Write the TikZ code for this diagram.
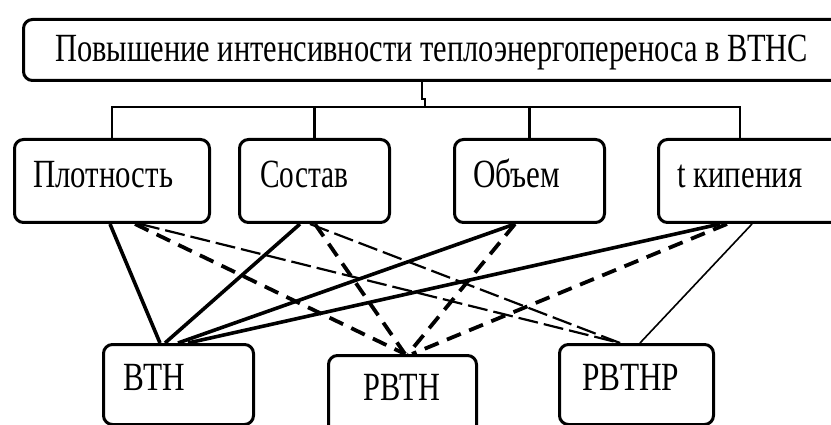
\documentclass[tikz,border=0pt]{standalone}
\usepackage{fontspec}
\setmainfont{Liberation Serif}
\usepackage{graphicx}
\newcommand\fitw[2]{\resizebox{#1}{\height}{\fontsize{40pt}{40pt}\selectfont #2}}
\begin{document}
\begin{tikzpicture}[x=1pt,y=-1pt,
  box/.style={draw, line width=3pt, rounded corners=9pt, inner sep=0pt, anchor=north west},
  lbl/.style={anchor=base west, inner sep=0pt},
  link/.style={line width=2.5pt},
  solidthick/.style={line width=3.6pt},
  dashthick/.style={line width=3.8pt, dash pattern=on 15pt off 9pt},
  dashthin/.style={line width=2.2pt, dash pattern=on 20pt off 6pt},
  thinline/.style={line width=1.6pt}]
\useasboundingbox (0,0) rectangle (831,425);
\clip (0,0) rectangle (831,425);
% boxes
\node[box, minimum width=830pt, minimum height=61pt] (top) at (22,18) {};
\node[box, minimum width=195pt, minimum height=83pt] (plot) at (13,138) {};
\node[box, minimum width=150pt, minimum height=83pt] (sost) at (238,138) {};
\node[box, minimum width=150pt, minimum height=83pt] (obem) at (453,138) {};
\node[box, minimum width=190pt, minimum height=83pt] (tkip) at (657,138) {};
\node[box, minimum width=150pt, minimum height=80pt] (vtn) at (102,343) {};
\node[box, minimum width=148pt, minimum height=90pt] (rvtn) at (327,354) {};
\node[box, minimum width=154pt, minimum height=80pt] (rvtnr) at (558,343) {};
% texts
\node[lbl] (ttop) at (55,62) {\fitw{753pt}{Повышение интенсивности теплоэнергопереноса в ВТНС}};
\node[lbl] (tplot) at (33,188) {\fitw{140pt}{Плотность}};
\node[lbl] (tsost) at (260,188) {\fitw{88pt}{Состав}};
\node[lbl] (tobem) at (473,188) {\fitw{87pt}{Объем}};
\node[lbl] (ttkip) at (677,188) {\fitw{125pt}{t кипения}};
\node[lbl] (tvtn) at (123,390) {\fitw{62pt}{ВТН}};
\node[lbl] (trvtn) at (363,400) {\fitw{77pt}{РВТН}};
\node[lbl] (trvtnr) at (582,390) {\fitw{97pt}{РВТНР}};
% tree
\coordinate (t1) at ([xshift=400pt]top.south west);
\coordinate (bus) at (425,107);
\coordinate (tk) at ([xshift=83pt]tkip.north west);
\draw[link] (t1) -- ++(0,17) -| (bus);
\draw[link] (plot.north) -- (plot.north |- bus) -- (tk |- bus) -- (tk);
\draw[link] (sost.north) -- (sost.north |- bus);
\draw[link] (obem.north) -- (obem.north |- bus);
% connectors to VTN
\draw[solidthick] ([xshift=97pt]plot.south west) -- ([xshift=58pt]vtn.north west);
\draw[solidthick] ([xshift=62pt]sost.south west) -- ([xshift=63pt]vtn.north west);
\draw[solidthick] ([xshift=62pt]obem.south west) -- ([xshift=76pt]vtn.north west);
\draw[solidthick] ([xshift=63pt]tkip.south west) -- ([xshift=86pt]vtn.north west);
% connectors to RVTN
\draw[dashthick] ([xshift=122pt]plot.south west) -- ([xshift=78pt]rvtn.north west);
\draw[dashthick] ([xshift=77pt]sost.south west) -- ([xshift=78pt]rvtn.north west);
\draw[dashthick] ([xshift=62pt]obem.south west) -- ([xshift=81pt]rvtn.north west);
\draw[dashthick] ([xshift=70pt]tkip.south west) -- ([xshift=85pt]rvtn.north west);
% connectors to RVTNR
\draw[dashthin] ([xshift=127pt]plot.south west) -- ([xshift=62pt]rvtnr.north west);
\draw[dashthin] ([xshift=72pt]sost.south west) -- ([xshift=62pt]rvtnr.north west);
\draw[thinline] ([xshift=95pt]tkip.south west) -- ([xshift=82pt]rvtnr.north west);
\end{tikzpicture}
\end{document}
